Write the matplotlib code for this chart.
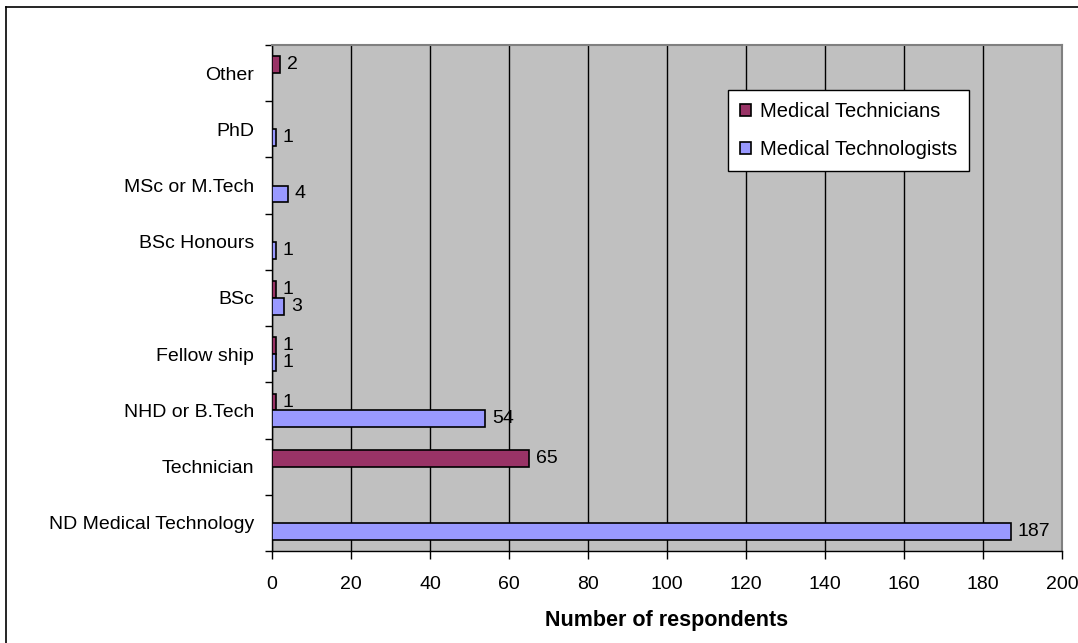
import matplotlib.pyplot as plt
from matplotlib.lines import Line2D
import numpy as np

plt.rcParams['font.family'] = ['Liberation Sans', 'DejaVu Sans']

categories = ['ND Medical Technology', 'Technician', 'NHD or B.Tech', 'Fellow ship',
              'BSc', 'BSc Honours', 'MSc or M.Tech', 'PhD', 'Other']
technicians = [0, 65, 1, 1, 1, 0, 0, 0, 2]
technologists = [187, 0, 54, 1, 3, 1, 4, 1, 0]

fig = plt.figure(figsize=(10.78, 6.43), dpi=100)
ax = fig.add_axes([0.2523, 0.1431, 0.9852 - 0.2523, 0.930 - 0.1431])
ax.set_facecolor('#c0c0c0')

y = np.arange(len(categories))
h = 0.3
b1 = ax.barh(y + h / 2, technicians, height=h, color='#993366', edgecolor='black',
             linewidth=1.2, label='Medical Technicians', zorder=3)
b2 = ax.barh(y - h / 2, technologists, height=h, color='#9999ff', edgecolor='black',
             linewidth=1.2, label='Medical Technologists', zorder=3)

# only label non-zero bars
for bars, vals in ((b1, technicians), (b2, technologists)):
    labels = [str(v) if v else '' for v in vals]
    ax.bar_label(bars, labels=labels, padding=5, fontsize=14)

ax.set_xlim(0, 200)
ax.set_ylim(-0.5, len(categories) - 0.5)
ax.set_xticks(np.arange(0, 201, 20))
ax.set_yticks(y)
ax.set_yticklabels(categories)
ax.set_yticks(np.arange(-0.5, len(categories)), minor=True)
ax.tick_params(axis='y', which='major', length=0, pad=13, labelsize=14)
ax.tick_params(axis='y', which='minor', length=5, width=1)
ax.tick_params(axis='x', length=6, width=1, pad=12, labelsize=14)
ax.xaxis.grid(True, color='black', linewidth=1, zorder=1)
ax.set_axisbelow(True)

for side in ('top', 'right'):
    ax.spines[side].set_color('#808080')
    ax.spines[side].set_linewidth(1.5)
for side in ('left', 'bottom'):
    ax.spines[side].set_color('black')
    ax.spines[side].set_linewidth(1)

ax.set_xlabel('Number of respondents', fontsize=15.5, fontweight='bold', labelpad=12)

leg = ax.legend(loc='upper left', bbox_to_anchor=(0.577, 0.911), fontsize=14.5,
                fancybox=False, framealpha=1, edgecolor='black', handlelength=0.55,
                handleheight=0.55, handletextpad=0.45, labelspacing=0.95,
                borderpad=0.6, borderaxespad=0)
leg.get_frame().set_linewidth(1)

# outer chart border
fig.add_artist(Line2D([6 / 1078, 1], [1 - 7 / 643, 1 - 7 / 643], color='black', lw=1.2))
fig.add_artist(Line2D([6 / 1078, 6 / 1078], [0, 1 - 7 / 643], color='black', lw=1.2))

plt.savefig('out.png', dpi=100)
